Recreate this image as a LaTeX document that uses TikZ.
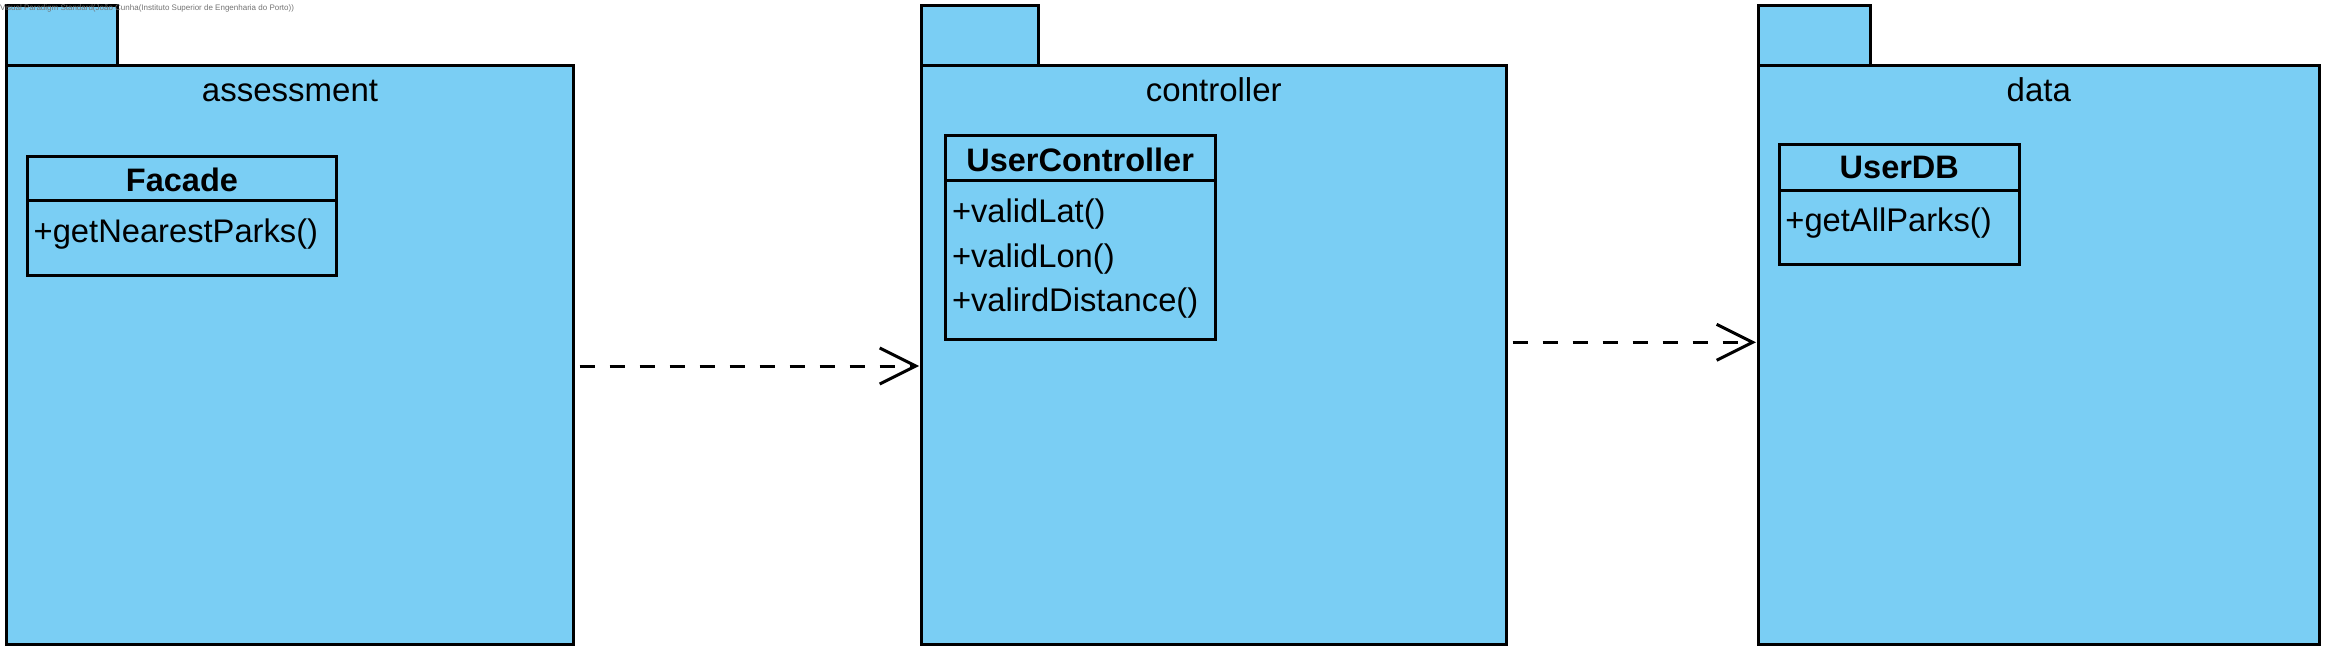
\documentclass[tikz,border=0pt]{standalone}
\usepackage{fontspec}
\setmainfont{Liberation Sans}
\usetikzlibrary{arrows.meta}
\definecolor{pkgblue}{HTML}{7ACEF4}
\begin{document}
\begin{tikzpicture}[x=1pt,y=-1pt,
  pkg/.style={draw=black, fill=pkgblue, line width=3pt, inner sep=0pt, outer sep=0pt, anchor=north west},
  cls/.style={draw=black, fill=pkgblue, line width=3pt, inner sep=0pt, outer sep=0pt, anchor=north west},
  pkgname/.style={font=\fontsize{33}{40}\selectfont, anchor=base, inner sep=0pt},
  clsname/.style={font=\fontsize{32.5}{38}\selectfont\bfseries, anchor=base, inner sep=0pt},
  member/.style={font=\fontsize{32.7}{38}\selectfont, anchor=base west, inner sep=0pt},
  divider/.style={line width=3pt},
  dep/.style={line width=3pt, dash pattern=on 15pt off 15pt,
    -{Straight Barb[length=36pt,width=36pt,line width=3pt]}},
  wmark/.style={font=\fontsize{8}{10}\selectfont, text=black!55, anchor=base west, inner sep=0pt}]

\useasboundingbox (0,0) rectangle (2334,660);

% package assessment
\node[pkg, minimum width=110.5pt, minimum height=60pt] (t1) at (6.5,6) {};
\node[pkg, minimum width=567pt, minimum height=578pt] (p1) at (6.5,66) {};
\node[pkgname] (n1) at (p1.north |- 0,102) {assessment};

% class Facade
\node[cls, minimum width=309.4pt, minimum height=119.3pt] (facade) at (27.3,156.7) {};
\draw[divider] (facade.west |- 0,201) -- (facade.east |- 0,201);
\node[clsname] (facadename) at (facade.north |- 0,192) {Facade};
\node[member] (m1) at (33.5,243) {+getNearestParks()};

% package controller
\node[pkg, minimum width=117.5pt, minimum height=60pt] (t2) at (921,6) {};
\node[pkg, minimum width=585.5pt, minimum height=578pt] (p2) at (921,66) {};
\node[pkgname] (n2) at (p2.north |- 0,102) {controller};

% class UserController
\node[cls, minimum width=270.3pt, minimum height=204pt] (uc) at (945,135.3) {};
\draw[divider] (uc.west |- 0,181) -- (uc.east |- 0,181);
\node[clsname] (ucname) at (uc.north |- 0,171.3) {UserController};
\node[member] (m2) at (951.8,223) {+validLat()};
\node[member] (m3) at (951.8,268) {+validLon()};
\node[member] (m4) at (951.8,311.5) {+valirdDistance()};

% package data
\node[pkg, minimum width=111.5pt, minimum height=60pt] (t3) at (1758.5,6) {};
\node[pkg, minimum width=560.5pt, minimum height=578pt] (p3) at (1758.5,66) {};
\node[pkgname] (n3) at (p3.north |- 0,102) {data};

% class UserDB
\node[cls, minimum width=240pt, minimum height=120pt] (udb) at (1779.3,144.3) {};
\draw[divider] (udb.west |- 0,190.5) -- (udb.east |- 0,190.5);
\node[clsname] (udbname) at (udb.north |- 0,179) {UserDB};
\node[member] (m5) at (1785.2,231.3) {+getAllParks()};

% dependencies
\coordinate (a1) at (0,366);
\coordinate (a2) at (0,342.3);
\draw[dep, shorten <=6pt, shorten >=2pt] (p1.east |- a1) -- (p2.west |- a1);
\draw[dep, shorten <=6pt, shorten >=2.5pt] (p2.east |- a2) -- (p3.west |- a2);

% watermark
\node[wmark] (wm) at (0,11) {Visual Paradigm Standard(João Cunha(Instituto Superior de Engenharia do Porto))};
\end{tikzpicture}
\end{document}
